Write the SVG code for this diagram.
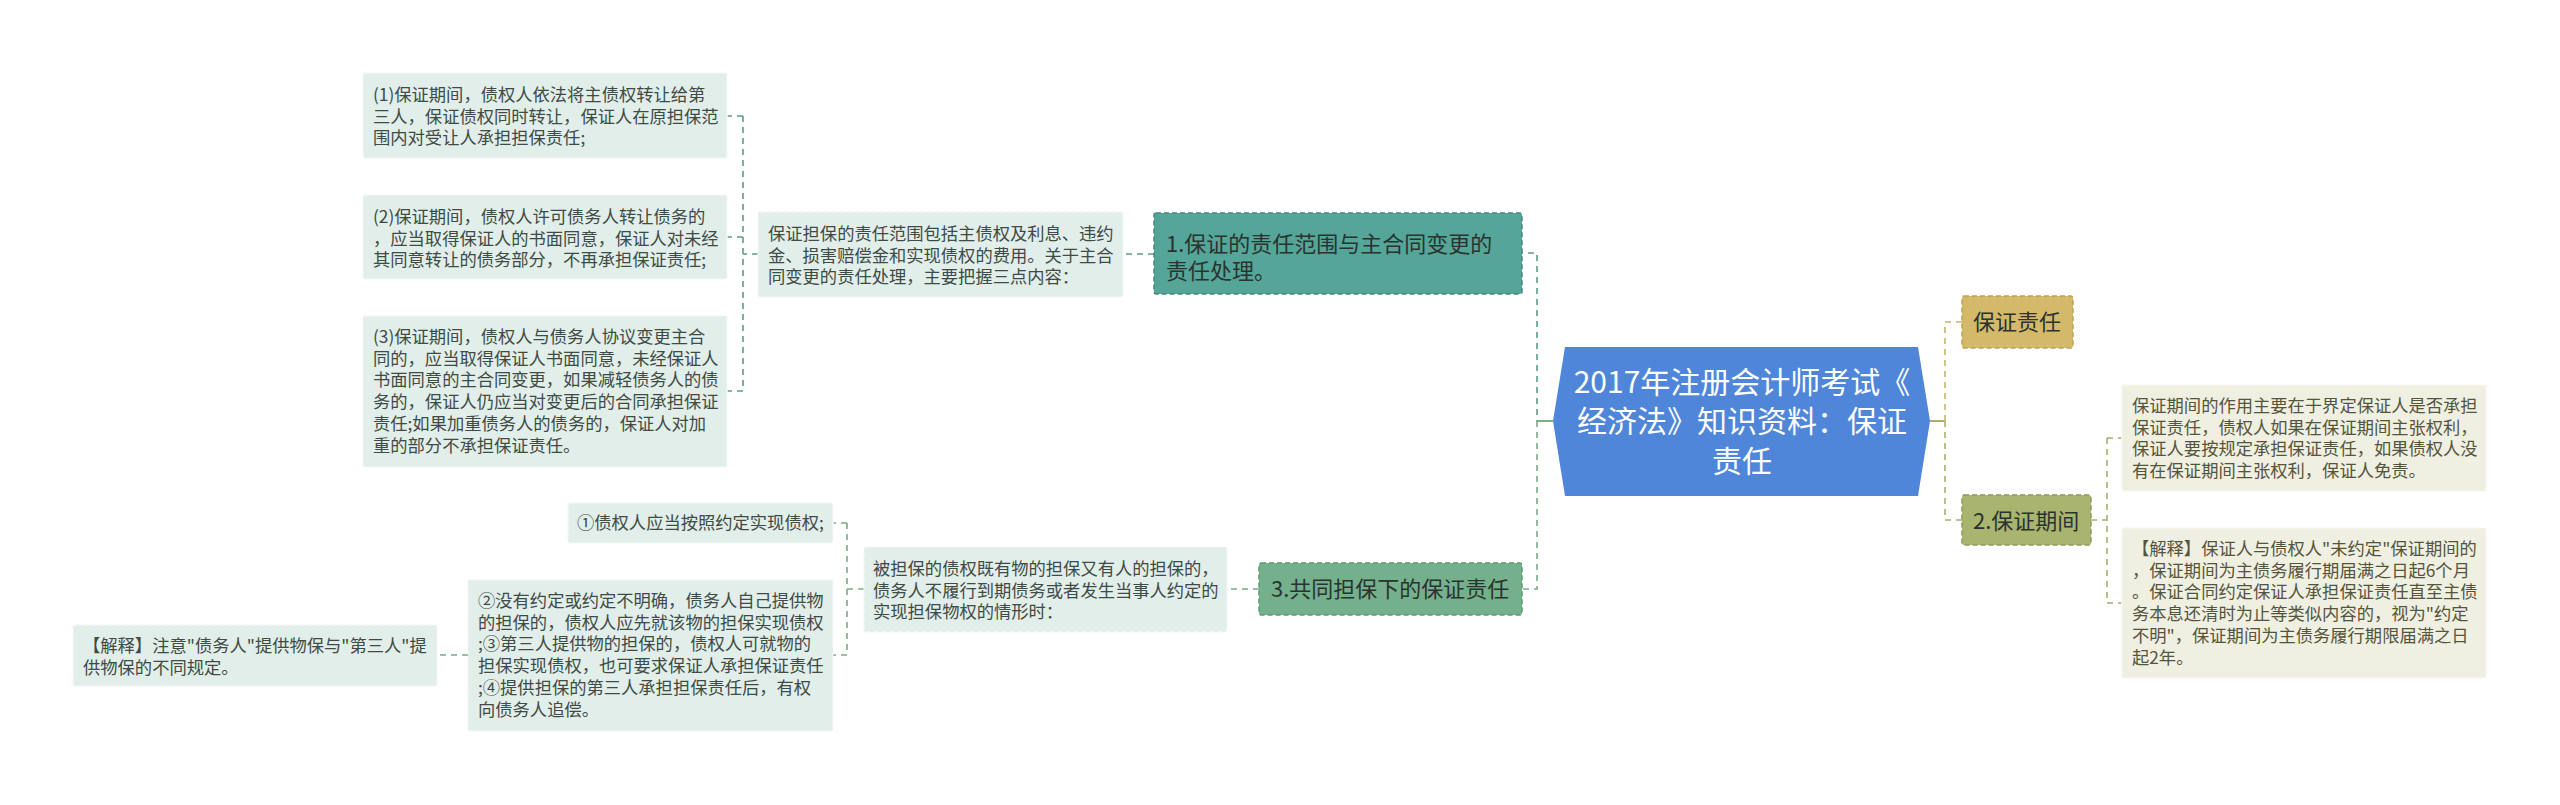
<svg xmlns="http://www.w3.org/2000/svg" width="2560" height="805" viewBox="0 0 2560 805">
<style>
text{font-family:"Microsoft YaHei","Noto Sans CJK SC","Noto Sans",sans-serif;}
.leafL{fill:#e2eee9;stroke:#f4f8f6;stroke-width:1.5;stroke-dasharray:5,3;}
.leafR{fill:#efefe2;stroke:#f7f7ef;stroke-width:1.5;stroke-dasharray:5,3;}
.tL{font-size:17.3px;fill:#3e4b46;}
.tR{font-size:17.3px;fill:#55553c;}
.big{font-size:22px;fill:#2a3330;}
.cT{fill:none;stroke:#5d9c8d;stroke-width:1.6;stroke-dasharray:6,5;}
.cG{fill:none;stroke:#7aab8b;stroke-width:1.6;stroke-dasharray:6,5;}
.cY{fill:none;stroke:#c8b466;stroke-width:1.6;stroke-dasharray:6,5;}
.cO{fill:none;stroke:#a7b06c;stroke-width:1.6;stroke-dasharray:6,5;}
</style>
<rect width="2560" height="805" fill="#ffffff"/>
<g id="connectors">
<path class="cT" d="M1553,421 H1537 V253 H1522"/>
<path class="cG" d="M1537,421 V589 H1522"/>
<path d="M1553,421 H1537" stroke="#7fb07f" stroke-width="2" fill="none"/>
<path class="cT" d="M1154,254 H1123"/>
<path class="cT" d="M758,254 H743 M743,116 V391 M743,116 H727 M743,237 H727 M743,391 H727"/>
<path class="cG" d="M1259,589 H1227"/>
<path class="cG" d="M864,589 H847 M847,523 V655 M847,523 H833 M847,655 H833"/>
<path class="cG" d="M468,655 H437"/>
<path d="M1930,421 H1945" stroke="#a7b06c" stroke-width="2" fill="none"/>
<path class="cY" d="M1945,421 V322 H1962"/>
<path class="cO" d="M1945,421 V520 H1962"/>
<path class="cO" d="M2091,520 H2107 M2107,438 V603 M2107,438 H2122 M2107,603 H2122"/>
</g>
<g id="center">
<polygon points="1565,347 1918,347 1930,421 1918,496 1565,496 1553,421" fill="#4f86d9"/>
<text text-anchor="middle" font-size="30" fill="#ffffff"><tspan x="1742" y="393">2017年注册会计师考试《</tspan><tspan x="1742" y="432">经济法》知识资料：保证</tspan><tspan x="1742" y="472">责任</tspan></text>
</g>
<g id="node1">
<rect x="1154" y="213" width="368" height="81" rx="2" fill="#55a598" stroke="#3f8a7c" stroke-width="1.5" stroke-dasharray="5,3"/>
<text class="big"><tspan x="1166" y="252">1.保证的责任范围与主合同变更的</tspan><tspan x="1166" y="279">责任处理。</tspan></text>
</g>
<g id="node1-desc">
<rect class="leafL" x="758" y="212" width="365" height="85" rx="2"/>
<text class="tL"><tspan x="768" y="240">保证担保的责任范围包括主债权及利息、违约</tspan><tspan x="768" y="261.7">金、损害赔偿金和实现债权的费用。关于主合</tspan><tspan x="768" y="283.4">同变更的责任处理，主要把握三点内容：</tspan></text>
</g>
<g id="leaf1">
<rect class="leafL" x="363" y="73" width="364" height="85" rx="2"/>
<text class="tL"><tspan x="373" y="101">(1)保证期间，债权人依法将主债权转让给第</tspan><tspan x="373" y="122.7">三人，保证债权同时转让，保证人在原担保范</tspan><tspan x="373" y="144.4">围内对受让人承担担保责任;</tspan></text>
</g>
<g id="leaf2">
<rect class="leafL" x="363" y="195" width="364" height="84" rx="2"/>
<text class="tL"><tspan x="373" y="223">(2)保证期间，债权人许可债务人转让债务的</tspan><tspan x="373" y="244.7">，应当取得保证人的书面同意，保证人对未经</tspan><tspan x="373" y="266.4">其同意转让的债务部分，不再承担保证责任;</tspan></text>
</g>
<g id="leaf3">
<rect class="leafL" x="363" y="316" width="364" height="151" rx="2"/>
<text class="tL"><tspan x="373" y="343">(3)保证期间，债权人与债务人协议变更主合</tspan><tspan x="373" y="364.7">同的，应当取得保证人书面同意，未经保证人</tspan><tspan x="373" y="386.4">书面同意的主合同变更，如果减轻债务人的债</tspan><tspan x="373" y="408.1">务的，保证人仍应当对变更后的合同承担保证</tspan><tspan x="373" y="429.8">责任;如果加重债务人的债务的，保证人对加</tspan><tspan x="373" y="451.5">重的部分不承担保证责任。</tspan></text>
</g>
<g id="node3">
<rect x="1259" y="563" width="263" height="52" rx="2" fill="#74b08b" stroke="#5a9a72" stroke-width="1.5" stroke-dasharray="5,3"/>
<text class="big"><tspan x="1271" y="597">3.共同担保下的保证责任</tspan></text>
</g>
<g id="node3-desc">
<rect class="leafL" x="864" y="547" width="363" height="85" rx="2"/>
<text class="tL"><tspan x="873" y="575">被担保的债权既有物的担保又有人的担保的，</tspan><tspan x="873" y="596.7">债务人不履行到期债务或者发生当事人约定的</tspan><tspan x="873" y="618.4">实现担保物权的情形时：</tspan></text>
</g>
<g id="leaf4">
<rect class="leafL" x="568" y="503" width="265" height="40" rx="2"/>
<text class="tL"><tspan x="577" y="529">①债权人应当按照约定实现债权;</tspan></text>
</g>
<g id="leaf5">
<rect class="leafL" x="468" y="580" width="365" height="151" rx="2"/>
<text class="tL"><tspan x="478" y="607">②没有约定或约定不明确，债务人自己提供物</tspan><tspan x="478" y="628.7">的担保的，债权人应先就该物的担保实现债权</tspan><tspan x="478" y="650.4">;③第三人提供物的担保的，债权人可就物的</tspan><tspan x="478" y="672.1">担保实现债权，也可要求保证人承担保证责任</tspan><tspan x="478" y="693.8">;④提供担保的第三人承担担保责任后，有权</tspan><tspan x="478" y="715.5">向债务人追偿。</tspan></text>
</g>
<g id="leaf6">
<rect class="leafL" x="73" y="625" width="364" height="61" rx="2"/>
<text class="tL"><tspan x="83" y="652">【解释】注意"债务人"提供物保与"第三人"提</tspan><tspan x="83" y="673.7">供物保的不同规定。</tspan></text>
</g>
<g id="node-resp">
<rect x="1962" y="296" width="111" height="52" rx="2" fill="#d4b96b" stroke="#bfa252" stroke-width="1.5" stroke-dasharray="5,3"/>
<text class="big"><tspan x="1973" y="330">保证责任</tspan></text>
</g>
<g id="node2">
<rect x="1962" y="495" width="129" height="50" rx="2" fill="#a9b46f" stroke="#8f9a57" stroke-width="1.5" stroke-dasharray="5,3"/>
<text class="big"><tspan x="1973" y="529">2.保证期间</tspan></text>
</g>
<g id="leaf7">
<rect class="leafR" x="2122" y="385" width="364" height="106" rx="2"/>
<text class="tR"><tspan x="2132" y="412">保证期间的作用主要在于界定保证人是否承担</tspan><tspan x="2132" y="433.7">保证责任，债权人如果在保证期间主张权利，</tspan><tspan x="2132" y="455.4">保证人要按规定承担保证责任，如果债权人没</tspan><tspan x="2132" y="477.1">有在保证期间主张权利，保证人免责。</tspan></text>
</g>
<g id="leaf8">
<rect class="leafR" x="2122" y="528" width="364" height="150" rx="2"/>
<text class="tR"><tspan x="2132" y="555">【解释】保证人与债权人"未约定"保证期间的</tspan><tspan x="2132" y="576.7">，保证期间为主债务履行期届满之日起6个月</tspan><tspan x="2132" y="598.4">。保证合同约定保证人承担保证责任直至主债</tspan><tspan x="2132" y="620.1">务本息还清时为止等类似内容的，视为"约定</tspan><tspan x="2132" y="641.8">不明"，保证期间为主债务履行期限届满之日</tspan><tspan x="2132" y="663.5">起2年。</tspan></text>
</g>
</svg>
